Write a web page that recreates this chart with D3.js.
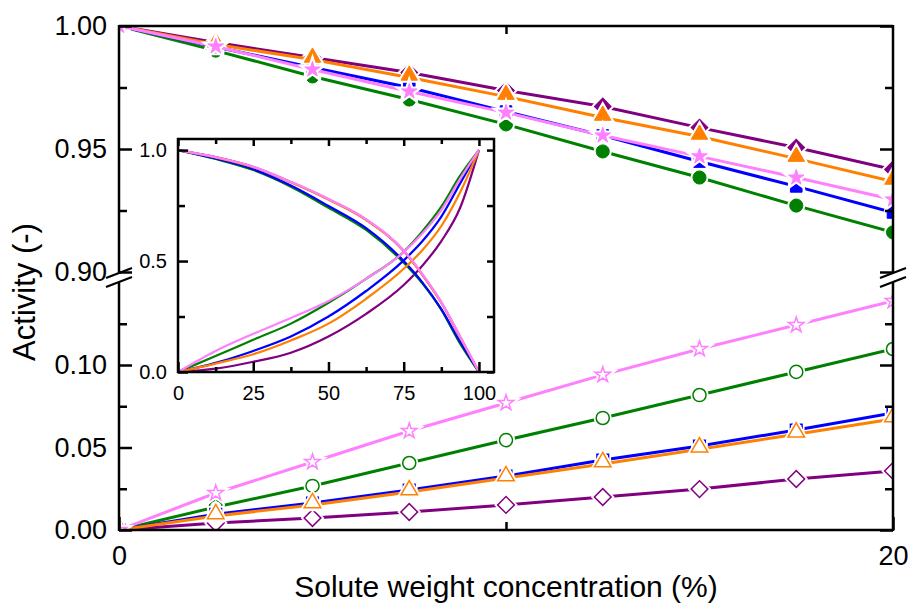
<!DOCTYPE html>
<html>
<head>
<meta charset="utf-8">
<script src="https://d3js.org/d3.v7.min.js"></script>
<style>
body { margin: 0; background: #fff; }
text { font-family: Arial, "Liberation Sans", sans-serif; fill: #000; }
</style>
</head>
<body>
<div id="chart"></div>
<script>
// measured concentrations (solute wt %)
var concentration = [0, 2.5, 5, 7.5, 10, 12.5, 15, 17.5, 20];

// solvent activity - upper panel, filled symbols
var purpleSolvent = [1.0, 0.9933, 0.9872, 0.9811, 0.9738, 0.9673, 0.9587, 0.9506, 0.9417];
var orangeSolvent = [1.0, 0.9925, 0.9864, 0.9791, 0.9713, 0.9628, 0.9551, 0.9461, 0.9368];
var pinkSolvent   = [1.0, 0.9917, 0.9823, 0.9734, 0.9648, 0.9555, 0.9470, 0.9384, 0.9295];
var blueSolvent   = [1.0, 0.9915, 0.9831, 0.9750, 0.9652, 0.9555, 0.9449, 0.9348, 0.9242];
var greenSolvent  = [1.0, 0.9900, 0.9795, 0.9701, 0.9600, 0.9490, 0.9384, 0.9270, 0.9161];

// solute activity - lower panel, open symbols
var pinkSolute   = [0, 0.0224, 0.0412, 0.0600, 0.0770, 0.0940, 0.1097, 0.1242, 0.1388];
var greenSolute  = [0, 0.0139, 0.0267, 0.0406, 0.0545, 0.0679, 0.0818, 0.0958, 0.1097];
var blueSolute   = [0, 0.0095, 0.0164, 0.0242, 0.0327, 0.0424, 0.0509, 0.0606, 0.0709];
var orangeSolute = [0, 0.0085, 0.0152, 0.0230, 0.0315, 0.0400, 0.0490, 0.0580, 0.0673];
var purpleSolute = [0, 0.0042, 0.0073, 0.0109, 0.0152, 0.0200, 0.0248, 0.0309, 0.0358];

// inset: full composition range
var insetConc  = [0, 12.5, 25, 37.5, 50, 62.5, 75, 81.25, 87.5, 93.75, 100];
var pinkDown   = [1, 0.968, 0.925, 0.857, 0.780, 0.688, 0.548, 0.440, 0.315, 0.160, 0];
var orangeDown = [1, 0.967, 0.923, 0.855, 0.777, 0.685, 0.545, 0.437, 0.312, 0.157, 0];
var purpleDown = [1, 0.968, 0.924, 0.856, 0.778, 0.687, 0.546, 0.438, 0.313, 0.158, 0];
var blueDown   = [1, 0.962, 0.914, 0.840, 0.748, 0.648, 0.500, 0.403, 0.283, 0.135, 0];
var greenDown  = [1, 0.960, 0.910, 0.835, 0.740, 0.640, 0.492, 0.398, 0.280, 0.128, 0];
var pinkUp     = [0, 0.095, 0.172, 0.243, 0.320, 0.420, 0.540, 0.625, 0.730, 0.870, 1];
var greenUp    = [0, 0.072, 0.145, 0.218, 0.312, 0.420, 0.542, 0.635, 0.745, 0.885, 1];
var blueUp     = [0, 0.041, 0.095, 0.160, 0.250, 0.365, 0.503, 0.590, 0.700, 0.850, 1];
var orangeUp   = [0, 0.038, 0.080, 0.142, 0.218, 0.330, 0.465, 0.550, 0.658, 0.810, 1];
var purpleUp   = [0, 0.015, 0.046, 0.087, 0.160, 0.262, 0.392, 0.480, 0.590, 0.740, 1];

// tick values
var xMajor = [0, 20];
var xMinor = [10];
var upperMajor = [0.90, 0.95, 1.00];
var upperMinor = [0.925, 0.975];
var lowerMajor = [0, 0.05, 0.10];
var lowerMinor = [0.025, 0.075, 0.125];
var insetXMajor = [0, 25, 50, 75, 100];
var insetXMinor = [12.5, 37.5, 62.5, 87.5];
var insetYMajor = [0, 0.5, 1.0];
var insetYMinor = [0.25, 0.75];

// style per series (draw order)
var series = [
    {color: "#800080", marker: "diamond",  solvent: purpleSolvent, solute: purpleSolute, down: purpleDown, up: purpleUp},
    {color: "#008000", marker: "circle",   solvent: greenSolvent,  solute: greenSolute,  down: greenDown,  up: greenUp},
    {color: "#0000ff", marker: "square",   solvent: blueSolvent,   solute: blueSolute,   down: blueDown,   up: blueUp},
    {color: "#ff8000", marker: "triangle", solvent: orangeSolvent, solute: orangeSolute, down: orangeDown, up: orangeUp},
    {color: "#ff80ff", marker: "star",     solvent: pinkSolvent,   solute: pinkSolute,   down: pinkDown,   up: pinkUp}
];

var markerSpec = {
    diamond:  {type: d3.symbolSquare,   size: 140, rotate: 45, dy: 0},
    circle:   {type: d3.symbolCircle,   size: 135, rotate: 0,  dy: 0},
    square:   {type: d3.symbolSquare,   size: 135, rotate: 0,  dy: 0},
    triangle: {type: d3.symbolTriangle, size: 118, rotate: 0,  dy: -2},
    star:     {type: d3.symbolStar,     size: 75,  rotate: 0,  dy: 0}
};

// frame
var svgWidth = 909;
var svgHeight = 605;
var plot = {left: 119, right: 893, top: 26, bottom: 530, upperEnd: 273, lowerStart: 282};

var svg = d3.select("#chart").append("svg").attr("width", svgWidth).attr("height", svgHeight);

var xScale = d3.scaleLinear().domain([0, 20]).range([plot.left, plot.right]);
var yUpper = d3.scaleLinear().domain([0.90, 1.00]).range([272, 26]);
var yLower = d3.scaleLinear().domain([0, 0.10]).range([530, 365]);

// clip regions for the two panels
var defs = svg.append("defs");
defs.append("clipPath").attr("id", "clipUpper").append("rect")
    .attr("x", plot.left).attr("y", plot.top)
    .attr("width", plot.right - plot.left).attr("height", plot.upperEnd - plot.top);
defs.append("clipPath").attr("id", "clipLower").append("rect")
    .attr("x", plot.left).attr("y", plot.lowerStart)
    .attr("width", plot.right - plot.left).attr("height", plot.bottom - plot.lowerStart);

function drawSeries(group, values, yScale, s, open) {
    var pts = concentration.map((c, i) => [xScale(c), yScale(values[i])]);
    group.append("path")
        .attr("d", d3.line()(pts))
        .attr("fill", "none")
        .attr("stroke", s.color)
        .attr("stroke-width", 3);
    var spec = markerSpec[s.marker];
    var sym = d3.symbol(spec.type, spec.size)();
    // white halo leaves the small gap between line and symbol
    group.selectAll(null).data(pts).enter().append("path")
        .attr("d", sym)
        .attr("transform", d => `translate(${d[0]},${d[1] + spec.dy}) rotate(${spec.rotate})`)
        .attr("fill", "#fff")
        .attr("stroke", "#fff")
        .attr("stroke-width", 5);
    group.selectAll(null).data(pts).enter().append("path")
        .attr("d", sym)
        .attr("transform", d => `translate(${d[0]},${d[1] + spec.dy}) rotate(${spec.rotate})`)
        .attr("fill", open ? "#fff" : s.color)
        .attr("stroke", s.color)
        .attr("stroke-width", open ? 1.5 : 1);
}

var upperGroup = svg.append("g").attr("clip-path", "url(#clipUpper)");
var lowerGroup = svg.append("g").attr("clip-path", "url(#clipLower)");
series.forEach(s => {
    drawSeries(upperGroup, s.solvent, yUpper, s, false);
    drawSeries(lowerGroup, s.solute, yLower, s, true);
});

// axes - ticks point inward
function tickAxis(axisFn, scale, values, size, pad, fmt) {
    return axisFn(scale).tickValues(values).tickSize(-size).tickSizeOuter(0)
        .tickPadding(pad).tickFormat(fmt);
}
var fmt2 = d3.format(".2f");
var noLabel = () => "";

function styleAxis(g, fontSize) {
    g.select(".domain").remove();
    g.selectAll("line").attr("stroke", "#000").attr("stroke-width", 2.5);
    g.selectAll("text").style("font-size", fontSize + "px");
}

svg.append("g").attr("transform", `translate(${plot.left},0)`)
    .call(tickAxis(d3.axisLeft, yUpper, upperMajor, 13, 12, fmt2)).call(styleAxis, 27);
svg.append("g").attr("transform", `translate(${plot.left},0)`)
    .call(tickAxis(d3.axisLeft, yUpper, upperMinor, 8, 12, noLabel)).call(styleAxis, 27);
svg.append("g").attr("transform", `translate(${plot.left},0)`)
    .call(tickAxis(d3.axisLeft, yLower, lowerMajor, 13, 12, fmt2)).call(styleAxis, 27);
svg.append("g").attr("transform", `translate(${plot.left},0)`)
    .call(tickAxis(d3.axisLeft, yLower, lowerMinor, 8, 12, noLabel)).call(styleAxis, 27);

svg.append("g").attr("transform", `translate(${plot.right},0)`)
    .call(tickAxis(d3.axisRight, yUpper, upperMajor, 13, 0, noLabel)).call(styleAxis, 27);
svg.append("g").attr("transform", `translate(${plot.right},0)`)
    .call(tickAxis(d3.axisRight, yUpper, upperMinor, 8, 0, noLabel)).call(styleAxis, 27);
svg.append("g").attr("transform", `translate(${plot.right},0)`)
    .call(tickAxis(d3.axisRight, yLower, lowerMajor, 13, 0, noLabel)).call(styleAxis, 27);
svg.append("g").attr("transform", `translate(${plot.right},0)`)
    .call(tickAxis(d3.axisRight, yLower, lowerMinor, 8, 0, noLabel)).call(styleAxis, 27);

svg.append("g").attr("transform", `translate(0,${plot.bottom})`)
    .call(tickAxis(d3.axisBottom, xScale, xMajor, 13, 16, d3.format("d"))).call(styleAxis, 27);
svg.append("g").attr("transform", `translate(0,${plot.bottom})`)
    .call(tickAxis(d3.axisBottom, xScale, xMinor, 8, 16, noLabel)).call(styleAxis, 27);
svg.append("g").attr("transform", `translate(0,${plot.top})`)
    .call(tickAxis(d3.axisTop, xScale, xMinor, 8, 0, noLabel)).call(styleAxis, 27);

// frame lines with the axis break
var frame = svg.append("g").attr("stroke", "#000").attr("stroke-width", 2.5).attr("fill", "none");
frame.append("line").attr("x1", plot.left).attr("x2", plot.right).attr("y1", plot.top).attr("y2", plot.top);
frame.append("line").attr("x1", plot.left).attr("x2", plot.right).attr("y1", plot.bottom).attr("y2", plot.bottom);
[plot.left, plot.right].forEach(x => {
    frame.append("line").attr("x1", x).attr("x2", x).attr("y1", plot.top - 1).attr("y2", plot.upperEnd);
    frame.append("line").attr("x1", x).attr("x2", x).attr("y1", plot.lowerStart).attr("y2", plot.bottom + 1);
    [plot.upperEnd, plot.lowerStart].forEach(y => {
        frame.append("line")
            .attr("x1", x - 13).attr("y1", y + 5)
            .attr("x2", x + 13).attr("y2", y - 5)
            .attr("stroke-width", 2.2);
    });
});

// axis titles
svg.append("text")
    .attr("x", (plot.left + plot.right) / 2)
    .attr("y", 597)
    .attr("text-anchor", "middle")
    .style("font-size", "30px")
    .text("Solute weight concentration (%)");

svg.append("text")
    .attr("transform", "translate(35,292) rotate(-90)")
    .attr("text-anchor", "middle")
    .style("font-size", "31px")
    .text("Activity (-)");

// inset
var inset = {left: 178, right: 494, top: 139, bottom: 372};
var xInset = d3.scaleLinear().domain([0, 105]).range([inset.left, inset.right]);
var yInset = d3.scaleLinear().domain([0, 1.05]).range([inset.bottom, inset.top]);
var insetGroup = svg.append("g");

insetGroup.append("rect")
    .attr("x", inset.left).attr("y", inset.top)
    .attr("width", inset.right - inset.left).attr("height", inset.bottom - inset.top)
    .attr("fill", "#fff");

var insetLine = d3.line()
    .x((d, i) => xInset(insetConc[i]))
    .y(d => yInset(d))
    .curve(d3.curveMonotoneX);

series.forEach(s => {
    [s.down, s.up].forEach(vals => {
        insetGroup.append("path")
            .attr("d", insetLine(vals))
            .attr("fill", "none")
            .attr("stroke", s.color)
            .attr("stroke-width", 2.2);
    });
});

insetGroup.append("g").attr("transform", `translate(0,${inset.bottom})`)
    .call(tickAxis(d3.axisBottom, xInset, insetXMajor, 10, 14, d3.format("d"))).call(styleAxis, 20);
insetGroup.append("g").attr("transform", `translate(0,${inset.bottom})`)
    .call(tickAxis(d3.axisBottom, xInset, insetXMinor, 5, 14, noLabel)).call(styleAxis, 20);
insetGroup.append("g").attr("transform", `translate(0,${inset.top})`)
    .call(tickAxis(d3.axisTop, xInset, insetXMajor, 7, 0, noLabel)).call(styleAxis, 20);
insetGroup.append("g").attr("transform", `translate(0,${inset.top})`)
    .call(tickAxis(d3.axisTop, xInset, insetXMinor, 5, 0, noLabel)).call(styleAxis, 20);
insetGroup.append("g").attr("transform", `translate(${inset.left},0)`)
    .call(tickAxis(d3.axisLeft, yInset, insetYMajor, 10, 11, d3.format(".1f"))).call(styleAxis, 20);
insetGroup.append("g").attr("transform", `translate(${inset.left},0)`)
    .call(tickAxis(d3.axisLeft, yInset, insetYMinor, 7, 11, noLabel)).call(styleAxis, 20);
insetGroup.append("g").attr("transform", `translate(${inset.right},0)`)
    .call(tickAxis(d3.axisRight, yInset, insetYMajor, 7, 0, noLabel)).call(styleAxis, 20);
insetGroup.append("g").attr("transform", `translate(${inset.right},0)`)
    .call(tickAxis(d3.axisRight, yInset, insetYMinor, 7, 0, noLabel)).call(styleAxis, 20);

insetGroup.append("rect")
    .attr("x", inset.left).attr("y", inset.top)
    .attr("width", inset.right - inset.left).attr("height", inset.bottom - inset.top)
    .attr("fill", "none")
    .attr("stroke", "#000")
    .attr("stroke-width", 2.5);
</script>
</body>
</html>
